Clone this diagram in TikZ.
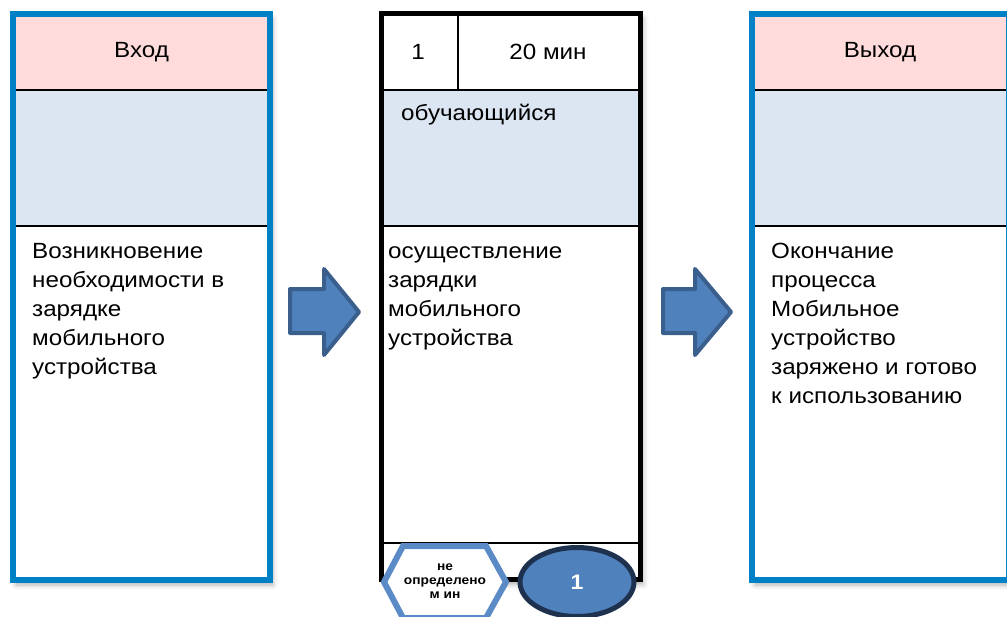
\documentclass[tikz,border=0pt]{standalone}
\usepackage{fontspec}
\setmainfont{Liberation Sans}[FakeStretch=1.1]
\usetikzlibrary{shapes.geometric,shadows.blur}
\definecolor{bordc}{HTML}{0081C6}
\definecolor{pinkc}{HTML}{FFDBDB}
\definecolor{bluec}{HTML}{DCE6F2}
\definecolor{arrfill}{HTML}{4F81BD}
\definecolor{arrdraw}{HTML}{3A5F8D}
\definecolor{hexdraw}{HTML}{5B8BC7}
\definecolor{elldraw}{HTML}{1E3250}
\newcommand{\fl}{\rule{0pt}{20pt}}
\tikzset{
  frame/.style={minimum width=257pt, minimum height=566pt, inner sep=0pt, fill=white,
    blur shadow={shadow xshift=3pt, shadow yshift=-5pt, shadow blur radius=5pt, shadow opacity=30}},
  sep/.style={line width=2pt, black},
  bigtxt/.style={font=\fontsize{22}{29}\selectfont, inner sep=0pt, align=left, anchor=north west},
  headtxt/.style={font=\fontsize{22}{29}\selectfont, inner sep=0pt},
  blockarrow/.style={fill=arrfill, draw=arrdraw, line width=4pt, line join=round},
}
\begin{document}
\begin{tikzpicture}[x=1pt,y=-1pt]
\useasboundingbox (0,0) rectangle (1007,616);
\clip (0,0) rectangle (1007,616);
% ---------- left box ----------
\node[frame] (inbox) at (141.5,297) {};
\fill[pinkc] (16,17) rectangle (267,90);
\fill[bluec] (16,90) rectangle (267,226);
\draw[sep] (16,90) -- (267,90);
\draw[sep] (16,226) -- (267,226);
\draw[bordc, line width=6pt] (inbox.north west) rectangle (inbox.south east);
\node[headtxt] (intitle) at (141.5,52) {Вход};
\node[bigtxt] (intext) at (32,238) {\fl Возникновение\\необходимости в\\зарядке\\мобильного\\устройства};
% ---------- middle box ----------
\node[frame, minimum width=259pt] (midbox) at (511,296.5) {};
\fill[bluec] (384,90) rectangle (638,226);
\draw[sep] (384,90) -- (638,90);
\draw[sep] (384,226) -- (638,226);
\draw[sep] (458,16) -- (458,90);
\draw[sep] (384,543) -- (638,543);
\draw[black, line width=5pt] (midbox.north west) rectangle (midbox.south east);
\node[headtxt] (num) at (418,52) {1};
\node[headtxt] (time) at (548,52) {20 мин};
\node[bigtxt] (role) at (401,100) {\fl обучающийся};
\node[bigtxt] (midtext) at (388,238) {\fl осуществление\\зарядки\\мобильного\\устройства};
% hexagon
\draw[hexdraw, fill=white, line width=6pt, line join=miter]
  (384,582) -- (403,546) -- (486,546) -- (506,582) -- (486,618) -- (403,618) -- cycle;
\node[font=\bfseries\fontsize{12.5}{14}\selectfont, align=center, inner sep=0pt] (hex) at (445,581) {не\\определено\\м ин};
% ellipse
\node[ellipse, fill=arrfill, draw=elldraw, line width=5pt, minimum width=114pt, minimum height=69pt, inner sep=0pt,
  font=\bfseries\fontsize{21}{24}\selectfont, text=white] (cnt) at (577,582) {1};
% ---------- right box ----------
\node[frame] (outbox) at (880.5,297) {};
\fill[pinkc] (755,17) rectangle (1006,90);
\fill[bluec] (755,90) rectangle (1006,226);
\draw[sep] (755,90) -- (1006,90);
\draw[sep] (755,226) -- (1006,226);
\draw[bordc, line width=6pt] (outbox.north west) rectangle (outbox.south east);
\node[headtxt] (outtitle) at (880,52) {Выход};
\node[bigtxt] (outtext) at (771,238) {\fl Окончание\\процесса\\Мобильное\\устройство\\заряжено и готово\\к использованию};
% ---------- block arrows ----------
\draw[blockarrow] (290,289) -- (324,289) -- (324,269) -- (359,312) -- (324,355) -- (324,333) -- (290,333) -- cycle;
\draw[blockarrow] (663,289) -- (695,289) -- (695,269) -- (731,312) -- (695,355) -- (695,333) -- (663,333) -- cycle;
\end{tikzpicture}
\end{document}
